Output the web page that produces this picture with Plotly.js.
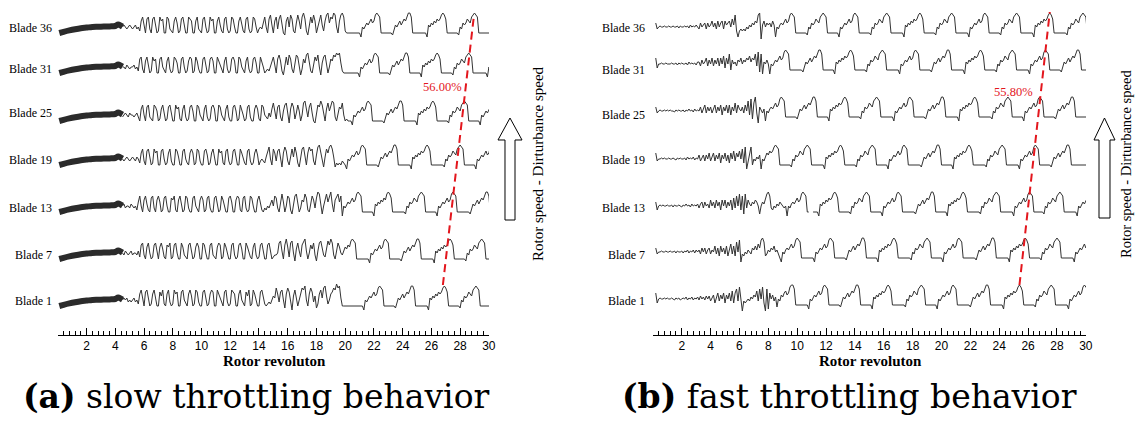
<!DOCTYPE html>
<html><head><meta charset="utf-8">
<script src="https://cdn.plot.ly/plotly-3.0.1.min.js"></script>
<style>html,body{margin:0;padding:0;background:#fff;}#chart{width:1136px;height:422px;}</style>
</head><body><div id="chart"></div>
<script>
// ---------------- DATA ----------------
const BLADES = ['Blade 1','Blade 7','Blade 13','Blade 19','Blade 25','Blade 31','Blade 36'];
const X_TICKS = [2,4,6,8,10,12,14,16,18,20,22,24,26,28,30];
const STEP = 0.1;            // sampling step, rotor revolutions
const SLOW_START = 4.5;      // first sample of the thin signal, panel (a)
const FAST_START = 0.2;      // first sample, panel (b)

// noisy start band of panel (a)
const bandX = [0.1,0.4,0.8,1.2,1.6,2.0,2.4,2.8,3.2,3.6,4.0,4.2,4.35,4.5];
const bandY = [0,0.6,1.3,1.9,2.4,2.7,3.0,3.1,3.2,3.3,3.5,4.3,3.8,3.2];

// ---- panel (a) slow throttling, one row = 1 revolution ----
const A1 = [
3,4,3,4,2,3,2,3,4,2, 3,1,6,8,3,0,7,8,4,0, 1,6,8,3,0,0,7,5,8,1, 0,6,8,2,0,1,8,6,7,0,
0,7,8,3,1,0,6,8,5,0, 1,8,7,2,0,0,7,8,4,0, 1,6,8,7,0,0,8,6,3,1, 0,7,8,2,0,1,8,7,6,0,
0,6,8,3,1,0,7,5,8,0, 1,8,6,2,0,0,7,8,4,1, 0,1,2,1,3,5,4,9,6,2, 7,8,3,-1,6,9,7,1,-2,5,
8,4,0,3,6,9,8,10,3,0, 6,9,7,2,5,-1,1,6,8,4, 9,10,5,1,3,6,7,9,8,11, 9,10,4,0,0,0,0,0,0,0,
0,0,0,0,0,0,0,0,-2,3, 2,4,5,4,6,7,5,6,9,10, 9,8,0,0,0,0,0,0,0,0, -1,2,4,3,5,6,4,6,7,6,
8,10,10,8,0,0,0,0,0,0, 0,0,0,-2,4,3,5,4,6,5, 7,6,7,9,10,9,7,0,0,0, 0,0,0,0,0,-1,3,2,5,4,
5,7,6,5,8,9,10,9,8,0, 0,0,0,0,0,0,0,0,0,0];
const A7 = [
3,2,4,3,2,3,4,2,3,3, 2,4,1,7,8,2,0,6,8,3, 0,1,7,8,4,0,6,8,5,1, 0,7,6,8,0,1,7,8,3,0,
0,8,6,2,1,0,7,8,4,0, 1,6,8,6,0,0,8,7,3,0, 0,7,8,2,1,0,6,8,7,0, 1,8,6,3,0,0,7,8,2,0,
1,7,8,5,0,0,8,6,3,1, 0,6,8,2,0,1,7,8,4,0, 0,7,8,3,0,1,2,2,3,8, 9,4,0,7,10,6,1,8,9,3,
-1,5,8,4,1,7,9,10,4,0, 3,7,5,8,2,-1,4,8,9,6, 2,1,6,9,7,10,8,2,0,5, 8,6,3,2,4,6,5,7,6,9,
10,9,8,0,0,0,0,0,0,0, 0,0,-2,3,2,4,5,4,6,7, 5,6,9,10,9,8,0,0,0,0, 0,0,0,0,-1,2,4,3,5,6,
4,6,7,6,8,10,10,8,0,0, 0,0,0,0,0,0,0,-2,4,3, 5,4,6,5,7,6,7,9,10,9, 7,0,0,0,0,0,0,0,0,-1,
3,2,5,4,5,7,6,5,8,9, 10,9,8,0,0,0,0,0,0,0];
const A13 = [
3,4,2,3,3,2,4,3,2,3, 1,5,8,3,0,6,8,4,1,0, 7,8,2,0,6,8,5,0,1,7, 8,3,0,0,7,6,8,1,0,6,
8,4,0,1,8,7,2,0,0,7, 8,3,1,0,6,8,6,0,1,7, 8,2,0,0,7,8,4,0,1,8, 6,3,0,0,7,8,5,0,0,6,
8,7,1,0,7,8,2,0,1,8, 7,3,0,0,6,8,4,1,0,2, 1,3,2,4,6,3,8,7,2,0, 6,9,5,0,3,8,7,1,-1,5,
8,9,4,0,2,6,5,9,7,1, 0,4,8,6,2,7,10,9,3,-1, 3,7,9,5,8,10,4,0,6,8, 9,5,8,-2,3,2,4,5,4,6,
7,5,6,9,10,9,8,0,0,0, 0,0,0,0,0,-2,4,3,5,4, 6,5,7,6,9,10,9,7,0,0, 0,0,0,0,0,0,0,-1,3,2,
5,4,5,7,6,5,8,9,10,9, 8,0,0,0,0,0,0,0,0,-2, 3,2,4,5,4,6,7,5,6,9, 10,9,8,0,0,0,0,0,0,0,
0,0,-1,2,4,3,5,6,4,6, 7,6,8,10,10,8,0,0,0,0];
const A19 = [
3,2,3,4,3,2,3,4,3,2, 4,3,1,6,8,2,0,7,8,4, 0,1,8,6,7,0,0,7,8,3, 0,1,6,8,2,0,0,8,7,4,
0,0,7,8,3,1,0,6,8,6, 0,1,8,7,2,0,0,7,8,5, 0,1,6,8,3,0,0,8,6,7, 1,0,7,8,2,0,1,7,8,4,
0,0,8,6,3,1,0,7,8,2, 0,1,6,8,5,0,2,3,2,1, 4,7,9,3,0,8,6,2,7,8, 3,-1,6,9,7,2,0,5,8,4,
9,6,1,-1,4,8,9,3,0,6, 9,7,8,2,0,5,9,10,6,1, -1,4,8,6,9,10,8,4,-1,1, 0,1,0,2,1,0,-2,3,2,4,
5,4,6,7,5,6,9,10,9,8, 0,0,0,0,0,0,0,0,-1,2, 4,3,5,6,4,6,7,6,8,10, 10,8,0,0,0,0,0,0,0,0,
0,-2,4,3,5,4,6,5,7,6, 7,9,10,9,7,0,0,0,0,0, 0,0,0,0,-1,3,2,5,4,5, 7,6,5,8,9,10,9,8,0,0,
0,0,0,0,0,0,-2,3,2,4, 5,4,6,7,5,6,9,10,9,8];
const A25 = [
2,3,4,3,2,4,3,3,2,3, 4,2,0,6,8,3,0,7,8,2, 1,0,8,7,5,0,1,6,8,4, 0,1,7,8,3,0,0,8,6,7,
1,0,6,8,2,0,1,7,8,5, 0,0,8,7,3,1,0,6,8,2, 0,1,7,8,6,0,0,8,7,3, 1,0,6,8,2,0,0,7,8,5,
0,1,8,6,3,0,1,7,8,2, 0,0,6,8,6,1,0,8,7,3, 2,1,4,2,6,9,5,1,7,8, 2,0,5,8,9,3,-1,6,9,7,
1,4,8,5,0,3,9,10,6,2, 7,9,4,0,-1,5,8,7,10,8, 3,0,6,9,5,8,10,9,2,0, 4,7,6,9,3,0,1,0,0,0,
-2,3,2,4,5,4,6,7,5,6, 9,10,9,8,0,0,0,0,0,0, 0,0,-1,2,4,3,5,6,4,6, 7,6,8,10,10,8,0,0,0,0,
0,0,0,0,0,-2,4,3,5,4, 6,5,7,6,7,9,10,9,7,0, 0,0,0,0,0,0,0,-1,3,2, 5,4,5,7,6,5,8,9,10,9,
8,0,0,0,0,0,0,0,0,-2, 3,2,4,5,4,6,7,5,6,9];
const A31 = [
3,3,2,4,3,2,3,3,4,2, 3,1,7,8,2,0,6,8,4,0, 1,8,6,7,0,0,7,8,3,1, 0,6,8,2,0,1,8,7,5,0,
0,7,8,3,0,1,6,8,7,0, 1,8,6,2,0,0,7,8,4,0, 1,7,8,6,0,0,8,6,3,1, 0,6,8,2,0,1,7,8,6,0,
0,8,7,3,1,0,6,8,2,0, 1,7,8,5,0,0,8,6,3,0, 1,2,1,3,6,8,4,0,7,9, 6,1,-1,5,8,4,9,7,2,0,
6,9,8,3,-1,2,7,5,9,10, 6,1,0,4,8,6,9,3,-1,5, 8,9,4,0,3,7,6,9,8,10, 9,10,5,1,0,0,0,0,0,0,
0,0,0,0,0,-2,3,2,4,5, 4,6,7,5,6,9,10,9,8,0, 0,0,0,0,0,0,-1,2,4,3, 5,6,4,6,7,6,8,10,10,8,
0,0,0,0,0,0,0,0,-2,4, 3,5,4,6,5,7,6,7,9,10, 9,7,0,0,0,0,0,0,0,0, -1,3,2,5,4,5,7,6,5,8,
9,10,9,8,0,0,0,0,0,0, 0,0,0,0,-2,3,2,4,5,4];
const A36 = [
3,4,3,2,3,4,3,2,3,4, 2,3,1,6,8,3,0,7,8,2, 0,7,8,4,0,1,8,6,7,0, 0,8,7,2,1,0,6,8,5,0,
1,7,8,3,0,0,8,7,6,0, 0,6,8,2,1,0,7,8,3,0, 1,8,6,7,0,0,6,8,4,1, 0,7,8,2,0,1,8,7,3,0,
0,6,8,5,1,0,7,8,2,0, 1,8,7,3,0,2,3,2,6,8, 3,0,7,9,4,0,6,8,2,7, 9,5,0,-1,6,8,3,9,7,1,
0,5,9,6,2,8,10,7,1,-1, 4,8,5,9,6,0,3,7,9,4, 1,6,9,10,5,8,7,10,9,3, 0,6,9,10,8,1,0,0,0,0,
0,0,0,0,0,0,-2,3,2,4, 5,4,6,7,5,6,9,10,9,8, 0,0,0,0,0,0,0,0,-1,2, 4,3,5,6,4,6,7,6,8,10,
10,8,0,0,0,0,0,0,0,0, 0,0,-2,4,3,5,4,6,5,7, 6,7,9,10,9,7,0,0,0,0, 0,0,0,0,-1,3,2,5,4,5,
7,6,5,8,9,10,9,8,0,0, 0,0,0,0,0,0,0,0,0,0];

// ---- panel (b) fast throttling, one row = 1 revolution ----
const B1 = [
6,1,3,3.5,3,3,3.5,3,3.5,3, 3,3.5,3,2.5,3.5,3,3.5,2.5,3,3.5, 3,4,2.5,3.5,3,4,2.5,3.5,3,4, 2.5,4.5,3,4,2.5,4.5,3,4.5,2,4,
5,1,4,6,2,5,3,6,1,5, 3,6,2,7,1,6,8,2,9,4, -3,2,1,2,3,2,4,3,5,4, 7,2,8,3,9,1,-3,8,-2,6,
3,5,2,4,-1,3,2,5,4,6, 7,5,6,9,10,10,8,0,0,0, 0,0,0,0,0,0,-2,3,2,4, 5,4,6,7,5,6,9,10,9,8,
0,0,0,0,0,0,0,0,-1,2, 4,3,5,6,4,6,7,6,8,10, 10,8,0,0,0,0,0,0,0,0, -2,4,3,5,4,6,5,7,6,7,
9,10,9,7,0,0,0,0,0,0, 0,0,0,-1,3,2,5,4,5,7, 6,5,8,9,10,9,8,0,0,0, 0,0,0,0,0,-2,3,2,4,5,
4,6,7,5,6,9,10,9,8,0, 0,0,0,0,0,0,0,0,-1,2, 4,3,5,6,4,6,7,6,8,10, 10,8,0,0,0,0,0,0,0,0,
0,-2,4,3,5,4,6,5,7,6, 7,9,10,9,7,0,0,0,0,0, 0,0,0,-1,3,2,5,4,5,7, 6,5,8,9,10,9,8,0,0,0,
0,0,0,0,0,0,-2,3,2,4, 5,4,6,7,5,6,9,10,9,8];
const B7 = [
5,2,3,3,3.5,3,3,3.5,3,3, 3.5,3,3,3.5,2.5,3.5,3,3,3.5,2.5, 3.5,3,4,2.5,3.5,3,4,2.5,4,3, 4,2,5,3,5,2,4,5,2,4,
3,6,2,5,1,6,3,5,2,6, 1,5,7,2,6,1,8,3,9,-2, 2,1,3,2,4,3,2,5,4,6, 4,7,5,9,10,8,1,2,4,3,
5,4,6,3,4,2,0,-2,3,2, 4,5,4,6,7,5,6,9,10,9, 8,0,0,0,0,0,0,0,0,0, -2,3,2,4,5,4,6,7,5,6,
9,10,9,8,0,0,0,0,0,0, 0,0,-1,2,4,3,5,6,4,6, 7,6,8,10,10,8,0,0,0,0, 0,0,0,0,-2,4,3,5,4,6,
5,7,6,7,9,10,9,7,0,0, 0,0,0,0,0,0,0,-1,3,2, 5,4,5,7,6,5,8,9,10,9, 8,0,0,0,0,0,0,0,0,-2,
3,2,4,5,4,6,7,5,6,9, 10,9,8,0,0,0,0,0,0,0, 0,0,-1,2,4,3,5,6,4,6, 7,6,8,10,10,8,0,0,0,0,
0,0,0,0,0,-2,4,3,5,4, 6,5,7,6,7,9,10,9,7,0, 0,0,0,0,0,0,0,-1,3,2, 5,4,5,7,6,5,8,9,10,9,
8,0,0,0,0,0,0,0,0,0, -2,3,2,4,5,4,6,7,5,6];
const B13 = [
5,1,3,3.5,3,3.5,3,3,3.5,3, 3,3.5,2.5,3.5,3,3,3.5,3,2.5,3.5, 3,4,3,3.5,2.5,4,3,3.5,3,4, 2,4,5,2,5,3,4,2,6,3,
5,2,6,3,5,1,6,3,6,2, 5,3,6,1,7,2,8,3,9,1, 8,-1,9,2,6,4,3,5,4,6, 5,3,-1,3,5,4,7,9,10,8,
2,1,3,2,4,3,5,4,3,2, 3,-2,3,2,4,5,4,6,7,5, 6,9,10,9,8,0,0,null,null,0, 0,0,0,-2,4,3,5,4,6,5,
7,6,7,9,10,9,7,0,0,0, 0,0,0,0,0,-1,3,2,5,4, 5,7,6,5,8,9,10,9,8,0, 0,0,0,0,0,0,0,-2,3,2,
4,5,4,6,7,5,6,9,10,9, 8,0,0,0,0,0,0,0,0,0, -1,2,4,3,5,6,4,6,7,6, 8,10,10,8,0,0,0,0,0,0,
0,0,-2,4,3,5,4,6,5,7, 6,7,9,10,9,7,0,0,0,0, 0,0,0,0,0,-1,3,2,5,4, 5,7,6,5,8,9,10,9,8,0,
0,0,0,0,0,0,0,0,-2,3, 2,4,5,4,6,7,5,6,9,10, 9,8,0,0,0,0,0,0,0,-1, 3,2,5,4,5,7,6,5,8,9,
10,9,8,0,0,0,0,0,0,0, 0,0,-2,3,2,4,5,4,6,7];
const B19 = [
6,2,3,3,3.5,3,3.5,3,3,3.5, 3,3,3.5,3,2.5,3.5,3,3.5,3,3, 3.5,2.5,4,3,3.5,3,4,2.5,3.5,3, 5,2,4,5,2,5,3,6,2,4,
6,2,5,3,6,1,5,3,6,2, 5,1,6,3,7,2,6,4,7,3, 8,1,9,-2,2,7,9,0,3,2, 4,3,5,-2,3,2,4,6,5,7,
6,7,9,10,9,8,0,0,0,0, 0,0,0,0,-1,3,2,5,4,5, 7,6,5,8,9,10,9,8,0,0, 0,0,0,0,0,0,0,-2,4,3,
5,4,6,5,7,6,7,9,10,9, 7,0,0,0,0,0,0,0,0,-1, 3,2,5,4,5,7,6,5,8,9, 10,9,8,0,0,0,0,0,0,0,
0,-2,3,2,4,5,4,6,7,5, 6,9,10,9,8,0,0,0,0,0, 0,0,0,0,-1,2,4,3,5,6, 4,6,7,6,8,10,10,8,0,0,
0,0,0,0,0,0,-2,4,3,5, 4,6,5,7,6,7,9,10,9,7, 0,0,0,0,0,0,0,0,0,-1, 3,2,5,4,5,7,6,5,8,9,
10,9,8,0,0,0,0,0,0,0, 0,0,-2,3,2,4,5,4,6,7, 5,6,9,10,9,8,0,0,0,0, 0,0,0,0,-1,2,4,3,5,6,
4,6,7,6,8,10,10,8,0,0, 0,0,0,0,0,0,0,0,0,0];
const B25 = [
5,2,3,3.5,3,3,3.5,3,3.5,3, 3.5,3,3,2.5,3.5,3,3.5,3,3,3.5, 2.5,3.5,3,4,3,3.5,2.5,4,3,3.5, 3,5,2,4,6,2,5,3,5,2,
4,6,2,5,3,6,1,5,3,6, 2,6,1,5,3,7,2,6,4,3, 5,2,6,3,8,1,9,-1,7,10, 2,-3,5,3,2,4,-2,3,2,4,
5,4,6,7,5,6,9,10,9,8, 0,0,0,0,0,0,0,0,-1,2, 4,3,5,6,4,6,7,6,8,10, 10,8,0,0,0,0,0,0,0,0,
-2,4,3,5,4,6,5,7,6,7, 9,10,9,7,0,0,0,0,0,0, 0,0,-1,3,2,5,4,5,7,6, 5,8,9,10,9,8,0,0,0,0,
0,0,0,0,0,-2,3,2,4,5, 4,6,7,5,6,9,10,9,8,0, 0,0,0,0,0,0,0,-1,2,4, 3,5,6,4,6,7,6,8,10,10,
8,0,0,0,0,0,0,0,0,0, -2,4,3,5,4,6,5,7,6,7, 9,10,9,7,0,0,0,0,0,0, 0,0,0,-1,3,2,5,4,5,7,
6,5,8,9,10,9,8,0,0,0, 0,0,0,0,0,-2,3,2,4,5, 4,6,7,5,6,9,10,9,8,0, 0,0,0,0,0,0,0,-1,2,4,
3,5,6,4,6,7,6,8,10,10, 8,0,0,0,0,0,0,0,0,0];
const B31 = [
6,1,3,3,3.5,3,3,3.5,3,3, 3,3.5,3,3,3.5,2.5,3.5,3,3.5,3, 3,3.5,2.5,4,3,3.5,3,3.5,2.5,4, 4,2,5,3,4,6,2,5,3,6,
2,5,3,6,2,6,3,7,1,6, 3,8,0,5,3,4,2,5,4,6, 3,5,4,6,5,7,4,6,5,8, 2,9,-1,8,-2,4,3,5,3,-2,
3,2,4,5,4,6,7,5,6,9, 10,9,8,0,0,0,0,0,0,0, 0,0,-1,2,4,3,5,6,4,6, 7,6,8,10,10,8,0,0,0,0,
0,0,0,0,-2,4,3,5,4,6, 5,7,6,7,9,10,9,7,0,0, 0,0,0,0,0,0,-1,3,2,5, 4,5,7,6,5,8,9,10,9,8,
0,0,0,0,0,0,0,0,0,-2, 3,2,4,5,4,6,7,5,6,9, 10,9,8,0,0,0,0,0,0,0, 0,-1,2,4,3,5,6,4,6,7,
6,8,10,10,8,0,0,0,0,0, 0,0,0,0,-2,4,3,5,4,6, 5,7,6,7,9,10,9,7,0,0, 0,0,0,0,0,0,-1,3,2,5,
4,5,7,6,5,8,9,10,9,8, 0,0,0,0,0,0,0,0,0,-2, 3,2,4,5,4,6,7,5,6,9, 10,9,8,0,0,0,0,0,0,0,
0,-1,2,4,3,5,6,4,6,7, 6,8,10,10,8,0,0,0,0,0];
const B36 = [
5,2,3,3.5,3,3,3.5,3,3,3.5, 3,3,3.5,3,3,3.5,2.5,3.5,3,3, 3.5,3,3.5,2.5,4,3,3.5,3,4,3, 2,5,3,4,5,2,5,3,4,6,
3,5,2,6,3,5,6,2,6,4, 5,6,3,7,4,9,1,-2,1,2, 1,2,1,3,2,4,3,5,4,6, 5,9,10,-3,4,6,3,5,4,5,
3,6,4,-2,3,2,4,5,4,6, 7,5,6,9,10,9,8,0,0,0, 0,0,0,0,0,-1,3,2,5,4, 5,7,6,5,8,9,10,9,8,0,
0,0,0,0,0,0,0,-2,3,2, 4,5,4,6,7,5,6,9,10,9, 8,0,0,0,0,0,0,0,0,-1, 3,2,5,4,5,7,6,5,8,9,
10,9,8,0,0,0,0,0,0,0, 0,0,-2,4,3,5,4,6,5,7, 6,7,9,10,9,7,0,0,0,0, 0,0,0,0,-1,3,2,5,4,5,
7,6,5,8,9,10,9,8,0,0, 0,0,0,0,0,0,0,-2,3,2, 4,5,4,6,7,5,6,9,10,9, 8,0,0,0,0,0,0,0,0,-1,
3,2,5,4,5,7,6,5,8,9, 10,9,8,0,0,0,0,0,0,0, 0,0,-2,4,3,5,4,6,5,7, 6,7,9,10,9,7,0,0,0,0,
0,0,0,0,0,-1,3,2,5,4, 5,7,6,5,8,9,10,9,8,0];

const slowSeries = [A1, A7, A13, A19, A25, A31, A36];
const fastSeries = [B1, B7, B13, B19, B25, B31, B36];
// stall-cell peak revolutions joined by the red dashed line (Blade 1 -> Blade 36)
const slowRedX = [26.8, 28.95];
const fastRedX = [25.4, 27.5];
const slowRedText = '56.00%';
const fastRedText = '55.80%';

// ---------------- LAYOUT HELPERS ----------------
const W = 1136, PLOT_H = 335;
const PX = p => p / W;
const PY = p => (PLOT_H - p) / PLOT_H;
const offSlow = [14.5, 38, 61.5, 85, 107, 131, 151];
const offFast = [15, 38.5, 61.5, 85, 109, 132.5, 151];
const grid = (start, n) => Array.from({length: n}, (_, i) => Math.round((start + i * STEP) * 100) / 100);

const traces = [];
const lineStyle = {color: '#333', width: 1};
slowSeries.forEach((s, i) => {
  traces.push({x: bandX, y: bandY.map(v => v + offSlow[i]), xaxis: 'x', yaxis: 'y', mode: 'lines',
    line: {color: '#2b2b2b', width: 6, shape: 'spline'}, hoverinfo: 'skip', showlegend: false});
  traces.push({x: grid(SLOW_START, s.length), y: s.map(v => v === null ? null : v + offSlow[i]),
    xaxis: 'x', yaxis: 'y', mode: 'lines', line: lineStyle, connectgaps: false, hoverinfo: 'skip', showlegend: false, name: BLADES[i]});
});
fastSeries.forEach((s, i) => {
  traces.push({x: grid(FAST_START, s.length), y: s.map(v => v === null ? null : v + offFast[i]),
    xaxis: 'x2', yaxis: 'y', mode: 'lines', line: lineStyle, connectgaps: false, hoverinfo: 'skip', showlegend: false, name: BLADES[i]});
});
const red = {color: '#e3161d', width: 2, dash: '8px,5px'};
traces.push({x: slowRedX, y: [offSlow[0] + 10.5, offSlow[6] + 8], xaxis: 'x', yaxis: 'y', mode: 'lines', line: red, hoverinfo: 'skip', showlegend: false});
traces.push({x: fastRedX, y: [offFast[0] + 10, offFast[6] + 10.5], xaxis: 'x2', yaxis: 'y', mode: 'lines', line: red, hoverinfo: 'skip', showlegend: false});

const xaxisBase = {
  range: [0.01, 30.01], tickmode: 'linear', tick0: 0, dtick: 2,
  ticks: 'inside', ticklen: 7, tickwidth: 1, tickcolor: '#000',
  showline: true, linecolor: '#000', linewidth: 1, showgrid: false, zeroline: false,
  tickfont: {family: 'Liberation Sans, Arial, sans-serif', size: 12, color: '#000'},
  minor: {ticks: 'inside', ticklen: 4, tickwidth: 1, tickcolor: '#000', tick0: 0, dtick: 0.4, showgrid: false},
  anchor: 'y', fixedrange: true
};

const ann = [];
const serif = 'Liberation Serif, Times New Roman, serif';
const labelY = [301, 255, 208, 160, 113, 69, 28];
const labelYb = [301, 255, 208, 160, 115, 70, 28];
BLADES.forEach((b, i) => {
  ann.push({text: b, xref: 'paper', yref: 'paper', x: PX(54), y: PY(labelY[i]), xanchor: 'right', yanchor: 'middle', showarrow: false, font: {family: serif, size: 12, color: '#000'}});
  ann.push({text: b, xref: 'paper', yref: 'paper', x: PX(647), y: PY(labelYb[i]), xanchor: 'right', yanchor: 'middle', showarrow: false, font: {family: serif, size: 12, color: '#000'}});
});
ann.push({text: '<b>Rotor revoluton</b>', xref: 'paper', yref: 'paper', x: PX(274), y: PY(361), xanchor: 'center', yanchor: 'middle', showarrow: false, font: {family: serif, size: 15, color: '#000'}});
ann.push({text: '<b>Rotor revoluton</b>', xref: 'paper', yref: 'paper', x: PX(870), y: PY(361), xanchor: 'center', yanchor: 'middle', showarrow: false, font: {family: serif, size: 15, color: '#000'}});
ann.push({text: '<b>(a)</b> slow throttling behavior', xref: 'paper', yref: 'paper', x: PX(256), y: PY(396), xanchor: 'center', yanchor: 'middle', showarrow: false, font: {family: 'DejaVu Serif, serif', size: 33, color: '#000'}});
ann.push({text: '<b>(b)</b> fast throttling behavior', xref: 'paper', yref: 'paper', x: PX(849), y: PY(396), xanchor: 'center', yanchor: 'middle', showarrow: false, font: {family: 'DejaVu Serif, serif', size: 33, color: '#000'}});
ann.push({text: slowRedText, xref: 'paper', yref: 'paper', x: PX(442), y: PY(87), xanchor: 'center', yanchor: 'middle', showarrow: false, font: {family: serif, size: 12.5, color: '#e3161d'}});
ann.push({text: fastRedText, xref: 'paper', yref: 'paper', x: PX(1013), y: PY(92), xanchor: 'center', yanchor: 'middle', showarrow: false, font: {family: serif, size: 12.5, color: '#e3161d'}});
ann.push({text: 'Rotor speed - Dirturbance speed', xref: 'paper', yref: 'paper', x: PX(538), y: PY(164), textangle: -90, xanchor: 'center', yanchor: 'middle', showarrow: false, font: {family: serif, size: 15, color: '#000'}});
ann.push({text: 'Rotor speed - Dirturbance speed', xref: 'paper', yref: 'paper', x: PX(1126), y: PY(164), textangle: -90, xanchor: 'center', yanchor: 'middle', showarrow: false, font: {family: serif, size: 14.5, color: '#000'}});

function arrowPath(tipX, tipY, headL, headR, shaftL, shaftR, baseY, bottomY) {
  const pts = [[tipX, tipY], [headR, baseY], [shaftR, baseY], [shaftR, bottomY], [shaftL, bottomY], [shaftL, baseY], [headL, baseY]];
  return 'M ' + pts.map(p => PX(p[0]).toFixed(5) + ',' + PY(p[1]).toFixed(5)).join(' L ') + ' Z';
}
const shapes = [
  {type: 'path', xref: 'paper', yref: 'paper', path: arrowPath(510, 118, 498, 522, 505, 515, 140, 220), line: {color: '#000', width: 1}, fillcolor: '#fff'},
  {type: 'path', xref: 'paper', yref: 'paper', path: arrowPath(1104.5, 118, 1094, 1115, 1099, 1110, 140, 218), line: {color: '#000', width: 1}, fillcolor: '#fff'}
];

const layout = {
  width: 1136, height: 422,
  margin: {l: 0, r: 0, t: 0, b: 87, pad: 0},
  paper_bgcolor: '#fff', plot_bgcolor: 'rgba(0,0,0,0)',
  showlegend: false,
  xaxis: Object.assign({}, xaxisBase, {domain: [PX(58), PX(489)]}),
  xaxis2: Object.assign({}, xaxisBase, {domain: [PX(653), PX(1086)]}),
  yaxis: {domain: [0, 1], range: [0, 167.5], visible: false, fixedrange: true},
  annotations: ann, shapes: shapes
};
Plotly.newPlot('chart', traces, layout, {staticPlot: true, displayModeBar: false});
</script></body></html>
